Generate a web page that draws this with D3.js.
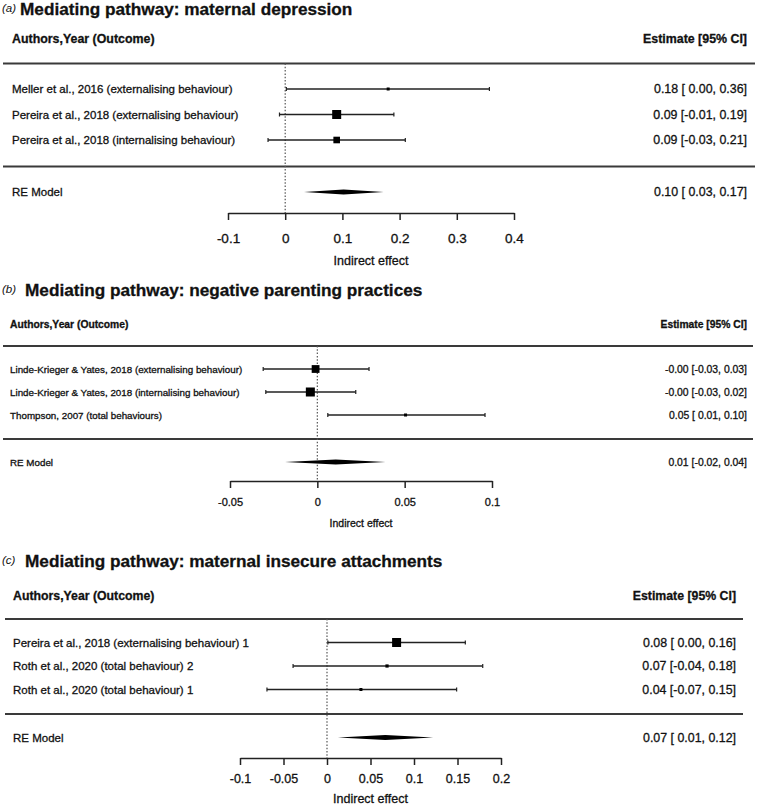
<!DOCTYPE html>
<html>
<head>
<meta charset="utf-8">
<script src="https://cdn.jsdelivr.net/npm/d3@7"></script>
<style>
  body { margin: 0; background: #fff; }
  svg text { font-family: "Liberation Sans", Arial, sans-serif; fill: #111; stroke: #111; stroke-width: 0.3px; }
</style>
</head>
<body>
<div id="forest"></div>
<script>

// panel titles
var tags = ["a", "b", "c"];
var titles = ["Mediating pathway: maternal depression",
  "Mediating pathway: negative parenting practices",
  "Mediating pathway: maternal insecure attachments"];

// (a) maternal depression
var labelsA = ["Meller et al., 2016 (externalising behaviour)",
  "Pereira et al., 2018 (externalising behaviour)",
  "Pereira et al., 2018 (internalising behaviour)"];
var estA = [0.18, 0.09, 0.09];
var loA = [0.002, -0.01, -0.03];
var hiA = [0.357, 0.19, 0.21];
var weightA = [10, 55, 37];
var reA = [0.102, 0.033, 0.172];
var ticksA = [-0.1, 0, 0.1, 0.2, 0.3, 0.4];

// (b) negative parenting practices
var labelsB = ["Linde-Krieger & Yates, 2018 (externalising behaviour)",
  "Linde-Krieger & Yates, 2018 (internalising behaviour)",
  "Thompson, 2007 (total behaviours)"];
var estB = [-0.001, -0.004, 0.0505];
var loB = [-0.031, -0.0295, 0.006];
var hiB = [0.0296, 0.022, 0.096];
var weightB = [40, 48, 8];
var reB = [0.0105, -0.0185, 0.039];
var ticksB = [-0.05, 0, 0.05, 0.1];

// (c) maternal insecure attachments
var labelsC = ["Pereira et al., 2018 (externalising behaviour) 1",
  "Roth et al., 2020 (total behaviour) 2",
  "Roth et al., 2020 (total behaviour) 1"];
var estC = [0.08, 0.069, 0.039];
var loC = [0.001, -0.039, -0.069];
var hiC = [0.159, 0.179, 0.149];
var weightC = [70, 16, 14];
var reC = [0.067, 0.0126, 0.122];
var ticksC = [-0.1, -0.05, 0, 0.05, 0.1, 0.15, 0.2];


var svg = d3.select("#forest")
  .append("svg")
  .attr("width", 760)
  .attr("height", 806);

// layout for each panel (pixel positions)
var layouts = [
  { titleY: 15, titleX: 20, headerY: 42.5, rule1: 63.5, rowTop: 89, rowBottom: 140, rule2: 166.5,
    reY: 192, axisY: 213, tickY: 243, axisTitleY: 264.5, xRange: [228, 514], ruleX: [3, 755],
    estX: 747, labelX: 12, fLabel: 11.5, fHead: 12.4, fEst: 12.4, fTick: 13.5, fAxis: 12.5 },
  { titleY: 296, titleX: 25, headerY: 328, rule1: 346, rowTop: 369, rowBottom: 415, rule2: 439,
    reY: 462, axisY: 481, tickY: 506, axisTitleY: 527, xRange: [230, 492], ruleX: [3, 753],
    estX: 747, labelX: 10, fLabel: 9.8, fHead: 10.3, fEst: 10.4, fTick: 11, fAxis: 10.5 },
  { titleY: 567, titleX: 25, headerY: 600, rule1: 619, rowTop: 642.5, rowBottom: 689.5, rule2: 714,
    reY: 737.5, axisY: 758, tickY: 783, axisTitleY: 803, xRange: [240, 501], ruleX: [5, 743],
    estX: 736, labelX: 13, fLabel: 11.5, fHead: 12.3, fEst: 12.4, fTick: 12.5, fAxis: 12.5 }
];

var panels = [
  { labels: labelsA, est: estA, lo: loA, hi: hiA, w: weightA, re: reA, ticks: ticksA },
  { labels: labelsB, est: estB, lo: loB, hi: hiB, w: weightB, re: reB, ticks: ticksB },
  { labels: labelsC, est: estC, lo: loC, hi: hiC, w: weightC, re: reC, ticks: ticksC }
];

function fmtCI(est, lo, hi) {
  var l = lo.toFixed(2);
  if (lo >= 0) l = " " + l;
  return est.toFixed(2) + " [" + l + ", " + hi.toFixed(2) + "]";
}

function drawPanel(p, L, i) {
  var g = svg.append("g");

  var x = d3.scaleLinear()
    .domain([p.ticks[0], p.ticks[p.ticks.length - 1]])
    .range(L.xRange);

  var y = d3.scalePoint()
    .domain(p.labels)
    .range([L.rowTop, L.rowBottom]);

  var size = d3.scaleLinear()
    .domain(d3.extent(p.w))
    .range([3, 9]);

  // title
  g.append("text")
    .attr("x", 2)
    .attr("y", L.titleY - 3)
    .attr("font-size", 11.5)
    .attr("font-style", "italic")
    .style("stroke-width", 0)
    .text("(" + tags[i] + ")");
  g.append("text")
    .attr("x", L.titleX)
    .attr("y", L.titleY)
    .attr("font-size", 17.2)
    .attr("font-weight", "bold")
    .text(titles[i]);

  // column headers
  g.append("text")
    .attr("x", L.labelX)
    .attr("y", L.headerY)
    .attr("font-size", L.fHead)
    .attr("font-weight", "bold")
    .text("Authors,Year (Outcome)");
  g.append("text")
    .attr("x", L.estX)
    .attr("y", L.headerY)
    .attr("font-size", L.fHead)
    .attr("font-weight", "bold")
    .attr("text-anchor", "end")
    .text("Estimate [95% CI]");

  // horizontal rules
  [L.rule1, L.rule2].forEach(function(ry) {
    g.append("line")
      .attr("x1", L.ruleX[0]).attr("x2", L.ruleX[1])
      .attr("y1", ry).attr("y2", ry)
      .attr("stroke", "#3a3a3a")
      .attr("stroke-width", 1.8);
  });

  // reference line at zero
  g.append("line")
    .attr("x1", x(0)).attr("x2", x(0))
    .attr("y1", L.rule1).attr("y2", L.axisY)
    .attr("stroke", "#555")
    .attr("stroke-width", 1.2)
    .attr("stroke-dasharray", "1.5,1.8");

  var rows = p.labels.map(function(lab, k) {
    return { label: lab, est: p.est[k], lo: p.lo[k], hi: p.hi[k], w: p.w[k] };
  });

  var rowG = g.selectAll(".study")
    .data(rows)
    .enter()
    .append("g")
    .attr("class", "study");

  rowG.append("text")
    .attr("x", L.labelX)
    .attr("y", d => y(d.label))
    .attr("dy", "0.36em")
    .attr("font-size", L.fLabel)
    .text(d => d.label);

  rowG.append("text")
    .attr("x", L.estX)
    .attr("y", d => y(d.label))
    .attr("dy", "0.36em")
    .attr("font-size", L.fEst)
    .attr("text-anchor", "end")
    .style("white-space", "pre")
    .text(d => fmtCI(d.est, d.lo, d.hi));

  // CI lines + end caps
  rowG.append("line")
    .attr("x1", d => x(d.lo)).attr("x2", d => x(d.hi))
    .attr("y1", d => y(d.label)).attr("y2", d => y(d.label))
    .attr("stroke", "#222")
    .attr("stroke-width", 1.4);
  rowG.selectAll(".cap")
    .data(d => [{ v: d.lo, yy: y(d.label) }, { v: d.hi, yy: y(d.label) }])
    .enter()
    .append("line")
    .attr("x1", d => x(d.v)).attr("x2", d => x(d.v))
    .attr("y1", d => d.yy - 2).attr("y2", d => d.yy + 2)
    .attr("stroke", "#222")
    .attr("stroke-width", 1.2);

  // squares
  rowG.append("rect")
    .attr("x", d => x(d.est) - size(d.w) / 2)
    .attr("y", d => y(d.label) - size(d.w) / 2)
    .attr("width", d => size(d.w))
    .attr("height", d => size(d.w))
    .attr("fill", "#000");

  // RE model
  g.append("text")
    .attr("x", L.labelX)
    .attr("y", L.reY)
    .attr("dy", "0.36em")
    .attr("font-size", L.fLabel)
    .text("RE Model");
  g.append("text")
    .attr("x", L.estX)
    .attr("y", L.reY)
    .attr("dy", "0.36em")
    .attr("font-size", L.fEst)
    .attr("text-anchor", "end")
    .style("white-space", "pre")
    .text(fmtCI(p.re[0], p.re[1], p.re[2]));
  g.append("polygon")
    .attr("points", [
      [x(p.re[1]), L.reY], [x(p.re[0]), L.reY - 2.6],
      [x(p.re[2]), L.reY], [x(p.re[0]), L.reY + 2.6]
    ].join(" "))
    .attr("fill", "#000");

  // x axis
  var axis = g.append("g")
    .attr("transform", `translate(0, ${L.axisY})`)
    .call(d3.axisBottom(x)
      .tickValues(p.ticks)
      .tickSize(7)
      .tickSizeOuter(0)
      .tickFormat(d => String(d)));
  axis.select(".domain").attr("stroke", "#222").attr("stroke-width", 1.5);
  axis.selectAll(".tick line").attr("stroke", "#222").attr("stroke-width", 1.5);
  axis.selectAll(".tick text")
    .attr("y", L.tickY - L.axisY)
    .attr("dy", null)
    .attr("font-size", L.fTick)
    .attr("font-family", null)
    .attr("fill", "#111");

  g.append("text")
    .attr("x", (L.xRange[0] + L.xRange[1]) / 2)
    .attr("y", L.axisTitleY)
    .attr("font-size", L.fAxis)
    .attr("text-anchor", "middle")
    .text("Indirect effect");
}

panels.forEach(function(p, i) {
  drawPanel(p, layouts[i], i);
});

</script>
</body>
</html>
